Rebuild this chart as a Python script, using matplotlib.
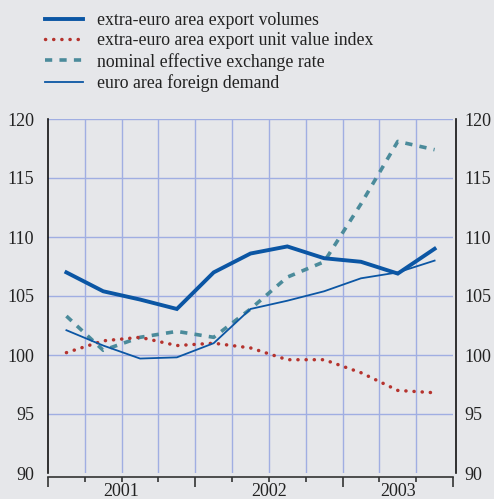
import matplotlib
matplotlib.use("Agg")
import matplotlib.pyplot as plt
from matplotlib.ticker import FixedLocator, NullFormatter

# quarterly data, 2001 Q1 - 2003 Q3
quarters = list(range(11))
export_volumes = [107.0, 105.4, 104.7, 103.9, 107.0, 108.6, 109.2, 108.2, 107.9, 106.9, 109.0]
unit_value_index = [100.2, 101.2, 101.5, 100.8, 101.0, 100.6, 99.6, 99.6, 98.5, 97.0, 96.8]
exchange_rate = [103.3, 100.4, 101.5, 102.0, 101.5, 103.9, 106.6, 107.9, 112.8, 118.1, 117.4]
foreign_demand = [102.1, 100.8, 99.7, 99.8, 101.0, 103.9, 104.6, 105.4, 106.5, 107.0, 108.0]
year_labels = ["2001", "2002", "2003"]
year_centres = [1.5, 5.5, 9.0]
series_labels = [
    "extra-euro area export volumes",
    "extra-euro area export unit value index",
    "nominal effective exchange rate",
    "euro area foreign demand",
]

BG = "#e6e7ea"
GRID = "#a0aee2"
BLUE = "#0b56a4"
RED = "#b5332e"
TEAL = "#4b8b9b"

plt.rcParams["font.family"] = ["Liberation Serif", "DejaVu Serif"]

fig = plt.figure(figsize=(4.94, 4.99), dpi=100, facecolor=BG)
ax = fig.add_axes([48 / 494, 1 - 473 / 499, 405 / 494, 354 / 499])
ax.set_facecolor(BG)

h1, = ax.plot(quarters, export_volumes, color=BLUE, lw=2.8, solid_joinstyle="miter", zorder=5)
h2, = ax.plot(quarters, unit_value_index, color=RED, lw=2.5, linestyle=(0, (0.05, 2.3)),
              dash_capstyle="round", zorder=4)
h3, = ax.plot(quarters, exchange_rate, color=TEAL, lw=2.6, linestyle=(0, (2.0, 2.0)), zorder=3)
h4, = ax.plot(quarters, foreign_demand, color=BLUE, lw=1.3, zorder=6)

ax.set_xlim(-0.5, 10.5)
ax.set_ylim(90, 120)
ax.set_yticks(range(90, 121, 5))

# grid: quarter boundaries and horizontal levels
for b in [q + 0.5 for q in quarters[:-1]]:
    ax.axvline(b, color=GRID, lw=1.0, zorder=1)
for v in range(95, 121, 5):
    ax.axhline(v, color=GRID, lw=1.0, zorder=1)

for s in ["top", "right"]:
    ax.spines[s].set_visible(False)
ax.spines["left"].set_color("#111111")
ax.spines["left"].set_linewidth(1.2)
ax.spines["bottom"].set_color("#333333")
ax.spines["bottom"].set_linewidth(1.2)
ax.spines["bottom"].set_position(("outward", 3))

ax.xaxis.set_major_locator(FixedLocator([-0.5, 3.5, 7.5, 10.5]))
ax.xaxis.set_minor_locator(FixedLocator([0.5, 1.5, 2.5, 4.5, 5.5, 6.5, 8.5, 9.5]))
ax.xaxis.set_major_formatter(NullFormatter())
ax.tick_params(axis="x", which="major", direction="out", length=7, width=1.2, color="#333333")
ax.tick_params(axis="x", which="minor", direction="out", length=3.5, width=1.2, color="#333333")
ax.tick_params(axis="y", length=0, pad=10, labelsize=13, labelcolor="#222222")

for lab, c in zip(year_labels, year_centres):
    ax.text(c, -0.028, lab, transform=ax.get_xaxis_transform(), ha="center", va="top",
            fontsize=13, color="#222222")

ax2 = ax.twinx()
ax2.set_ylim(90, 120)
ax2.set_yticks(range(90, 121, 5))
for s in ["top", "left", "bottom"]:
    ax2.spines[s].set_visible(False)
ax2.spines["right"].set_color("#111111")
ax2.spines["right"].set_linewidth(1.2)
ax2.spines["right"].set_position(("outward", 2))
ax2.tick_params(axis="y", length=0, pad=6, labelsize=13, labelcolor="#222222")

leg = fig.legend([h1, h2, h3, h4], series_labels, loc="upper left",
                 bbox_to_anchor=(45 / 494, 1 - 12 / 499), frameon=False, fontsize=12.8,
                 handlelength=2.15, handletextpad=0.8, labelspacing=0.19, borderpad=0,
                 borderaxespad=0)
for t in leg.get_texts():
    t.set_color("#222222")

fig.savefig("out.png", dpi=100, facecolor=BG)
